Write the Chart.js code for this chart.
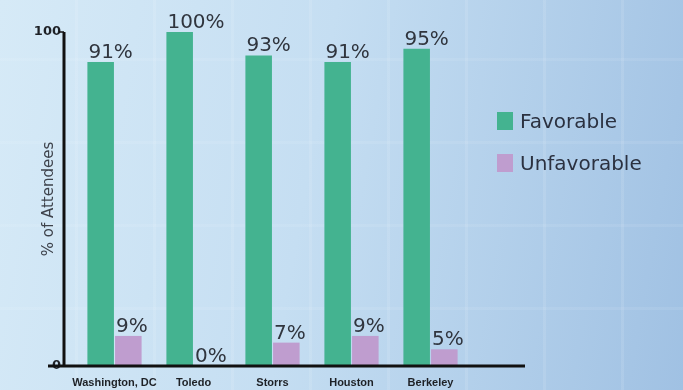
<!DOCTYPE html>
<html>
<head>
<meta charset="utf-8">
<script src="https://cdn.jsdelivr.net/npm/chart.js@4"></script>
<style>
  html, body { margin: 0; padding: 0; }
  body {
    width: 683px; height: 390px; overflow: hidden; position: relative;
    background:
      repeating-linear-gradient(90deg, rgba(255,255,255,0) 0 75px, rgba(255,255,255,0.10) 75px 78px),
      repeating-linear-gradient(0deg, rgba(255,255,255,0) 0 80px, rgba(255,255,255,0.08) 80px 83px),
      linear-gradient(100deg, #d6eaf7 0%, #c5def2 45%, #a0c1e3 100%);
  }
  #wrap { position: absolute; left: 0; top: 0; width: 683px; height: 390px; }
  .legend { position: absolute; left: 497px; font-family: 'DejaVu Sans', sans-serif; font-size: 20px; color: #2b3140; }
  .legend span.box { position: absolute; left: 0; top: 3px; width: 16px; height: 18px; }
  .legend span.txt { position: absolute; left: 23px; top: 0; white-space: nowrap; }
</style>
</head>
<body>
<div id="wrap"><canvas id="chart"></canvas></div>
<div class="legend" id="leg1" style="top:109px"><span class="box"></span><span class="txt"></span></div>
<div class="legend" id="leg2" style="top:151px"><span class="box"></span><span class="txt"></span></div>
<script>
// Chart data
const cities = ['Washington, DC', 'Toledo', 'Storrs', 'Houston', 'Berkeley'];
const favorable = [91, 100, 93, 91, 95];
const unfavorable = [9, 0, 7, 9, 5];
const yTicks = [0, 100];

const green = '#44b390';
const pink = '#bf9dcf';

// Legend (plain html, right side)
function fillLegend(id, color, label) {
    const el = document.getElementById(id);
    el.querySelector('.box').style.background = color;
    el.querySelector('.txt').textContent = label;
}
fillLegend('leg1', green, 'Favorable');
fillLegend('leg2', pink, 'Unfavorable');

// Percent labels above bars
const barLabels = {
    id: 'barLabels',
    afterDatasetsDraw(chart) {
        const ctx = chart.ctx;
        ctx.save();
        ctx.font = '20px "DejaVu Sans", sans-serif';
        ctx.fillStyle = '#30353e';
        ctx.textAlign = 'left';
        ctx.textBaseline = 'alphabetic';
        chart.data.datasets.forEach((ds, i) => {
            chart.getDatasetMeta(i).data.forEach((bar, j) => {
                ctx.fillText(ds.data[j] + '%', bar.x - bar.width / 2 + 1, bar.y - 4);
            });
        });
        ctx.restore();
    }
};

// Heavy black axis lines
const axisLines = {
    id: 'axisLines',
    afterDatasetsDraw(chart) {
        const ctx = chart.ctx;
        const y = chart.scales.y;
        const top = y.getPixelForValue(100);
        const bottom = y.getPixelForValue(0);
        ctx.save();
        ctx.strokeStyle = '#111';
        ctx.lineWidth = 3;
        ctx.beginPath();
        ctx.moveTo(64, top);
        ctx.lineTo(64, bottom + 1.5);
        ctx.moveTo(48, bottom);
        ctx.lineTo(525, bottom);
        ctx.stroke();
        ctx.lineWidth = 1.5;
        ctx.beginPath();
        ctx.moveTo(59, top);
        ctx.lineTo(64, top);
        ctx.stroke();
        ctx.restore();
    }
};

new Chart(document.getElementById('chart'), {
    type: 'bar',
    data: {
        labels: cities,
        datasets: [
            { label: 'Favorable', data: favorable, backgroundColor: green },
            { label: 'Unfavorable', data: unfavorable, backgroundColor: pink }
        ]
    },
    options: {
        responsive: true,
        maintainAspectRatio: false,
        animation: false,
        layout: { padding: { left: 0, top: 32, right: 213, bottom: 0 } },
        datasets: { bar: { categoryPercentage: 0.7, barPercentage: 0.96 } },
        plugins: { legend: { display: false }, tooltip: { enabled: false } },
        scales: {
            x: {
                grid: { display: false, drawTicks: false },
                border: { display: false },
                ticks: {
                    padding: 10,
                    color: '#1e2126',
                    font: { family: '"Liberation Sans", Arial, sans-serif', size: 11, weight: 'bold' },
                    maxRotation: 0, autoSkip: false
                },
                afterFit(scale) { scale.height = 24; }
            },
            y: {
                min: 0, max: 100,
                grid: { display: false, drawTicks: false },
                border: { display: false },
                afterBuildTicks(scale) { scale.ticks = yTicks.map(v => ({ value: v })); },
                ticks: {
                    padding: 14,
                    color: '#1e2126',
                    font: { family: '"DejaVu Sans", sans-serif', size: 13, weight: 'bold' }
                },
                title: {
                    display: true,
                    text: '% of Attendees',
                    color: '#3e434c',
                    padding: { top: 40, bottom: 0 },
                    font: { family: '"DejaVu Sans", sans-serif', size: 15 }
                },
                afterFit(scale) { scale.width = 75; }
            }
        }
    },
    plugins: [barLabels, axisLines]
});
</script>
</body>
</html>
